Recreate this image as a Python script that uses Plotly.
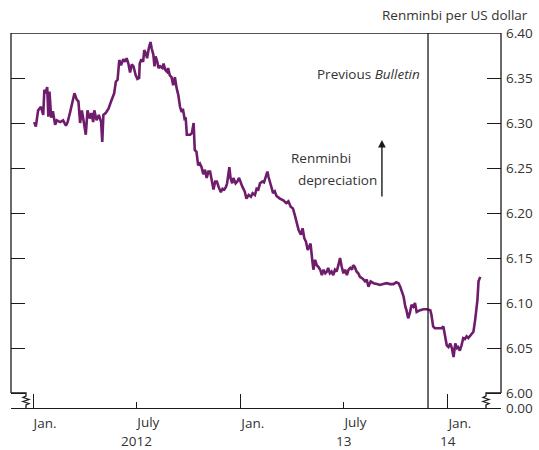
import plotly.graph_objects as go

# ---- data ----
dates = [
 "2012-01-03","2012-01-06","2012-01-10","2012-01-15","2012-01-19","2012-01-21","2012-01-23","2012-01-26",
 "2012-01-28","2012-01-30","2012-02-02","2012-02-05","2012-02-09","2012-02-12","2012-02-18","2012-02-23",
 "2012-02-28","2012-03-02","2012-03-06","2012-03-10","2012-03-14","2012-03-18","2012-03-21","2012-03-24",
 "2012-03-27","2012-03-30","2012-04-03","2012-04-06","2012-04-10","2012-04-13","2012-04-16","2012-04-18",
 "2012-04-22","2012-04-26","2012-04-30","2012-05-02","2012-05-04","2012-05-08","2012-05-13","2012-05-17",
 "2012-05-20","2012-05-23","2012-05-26","2012-05-29","2012-06-01","2012-06-04","2012-06-08","2012-06-11",
 "2012-06-14","2012-06-17","2012-06-20","2012-06-23","2012-06-26","2012-06-30","2012-07-03","2012-07-06",
 "2012-07-07","2012-07-10","2012-07-13","2012-07-15","2012-07-18","2012-07-20","2012-07-23","2012-07-26",
 "2012-07-28","2012-07-31","2012-08-02","2012-08-04","2012-08-07","2012-08-09","2012-08-12","2012-08-16",
 "2012-08-18","2012-08-21","2012-08-24","2012-08-26","2012-08-29","2012-09-01","2012-09-04","2012-09-07",
 "2012-09-10","2012-09-13","2012-09-16","2012-09-19","2012-09-21","2012-09-24","2012-09-26","2012-09-28",
 "2012-10-04","2012-10-07","2012-10-10","2012-10-12","2012-10-15","2012-10-18","2012-10-21","2012-10-24",
 "2012-10-27","2012-10-30","2012-11-02","2012-11-05","2012-11-08","2012-11-11","2012-11-14","2012-11-17",
 "2012-11-20","2012-11-23","2012-11-27","2012-11-30","2012-12-03","2012-12-06","2012-12-08","2012-12-12",
 "2012-12-14","2012-12-17","2012-12-19","2012-12-23","2012-12-26","2012-12-29","2013-01-02","2013-01-04",
 "2013-01-08","2013-01-11","2013-01-15","2013-01-19","2013-01-22","2013-01-26","2013-01-29","2013-02-01",
 "2013-02-04","2013-02-08","2013-02-11","2013-02-13","2013-02-17","2013-02-19","2013-02-22","2013-02-25",
 "2013-02-27","2013-03-02","2013-03-05","2013-03-11","2013-03-17","2013-03-22","2013-03-26","2013-03-30",
 "2013-04-03","2013-04-07","2013-04-10","2013-04-13","2013-04-17","2013-04-20","2013-04-23","2013-04-26",
 "2013-04-29","2013-05-02","2013-05-04","2013-05-07","2013-05-09","2013-05-12","2013-05-15","2013-05-18",
 "2013-05-21","2013-05-24","2013-05-27","2013-05-30","2013-06-02","2013-06-04","2013-06-07","2013-06-10",
 "2013-06-13","2013-06-16","2013-06-19","2013-06-22","2013-06-25","2013-06-28","2013-07-01","2013-07-04",
 "2013-07-07","2013-07-10","2013-07-13","2013-07-16","2013-07-18","2013-07-21","2013-07-24","2013-07-27",
 "2013-07-30","2013-08-04","2013-08-08","2013-08-11","2013-08-14","2013-08-18","2013-08-23","2013-08-29",
 "2013-09-03","2013-09-09","2013-09-15","2013-09-21","2013-09-27","2013-10-02","2013-10-06","2013-10-09",
 "2013-10-12","2013-10-15","2013-10-18","2013-10-20","2013-10-23","2013-10-26","2013-10-29","2013-11-01",
 "2013-11-04","2013-11-07","2013-11-13","2013-11-19","2013-11-25","2013-12-01","2013-12-03","2013-12-06",
 "2013-12-09","2013-12-15","2013-12-21","2013-12-24","2013-12-27","2013-12-30","2014-01-02","2014-01-05",
 "2014-01-08","2014-01-11","2014-01-14","2014-01-17","2014-01-19","2014-01-22","2014-01-25","2014-01-28",
 "2014-01-31","2014-02-03","2014-02-06","2014-02-09","2014-02-12","2014-02-15","2014-02-18","2014-02-20",
 "2014-02-22","2014-02-24","2014-02-27",
]
rmb_per_usd = [
 6.301,6.296,6.314,6.318,6.309,6.337,6.333,6.340,
 6.307,6.335,6.306,6.313,6.298,6.303,6.301,6.303,
 6.297,6.301,6.311,6.322,6.333,6.326,6.324,6.300,
 6.314,6.303,6.287,6.314,6.305,6.311,6.301,6.314,
 6.303,6.309,6.301,6.279,6.309,6.311,6.316,6.323,
 6.329,6.333,6.346,6.348,6.370,6.364,6.371,6.368,
 6.372,6.366,6.356,6.365,6.363,6.353,6.349,6.350,
 6.366,6.371,6.368,6.381,6.377,6.372,6.383,6.390,
 6.383,6.376,6.363,6.374,6.368,6.361,6.363,6.361,
 6.366,6.359,6.357,6.361,6.353,6.351,6.342,6.351,
 6.339,6.331,6.318,6.312,6.316,6.305,6.306,6.287,
 6.287,6.289,6.300,6.270,6.268,6.253,6.255,6.251,
 6.243,6.248,6.239,6.246,6.246,6.237,6.226,6.235,
 6.235,6.229,6.223,6.227,6.226,6.229,6.233,6.251,
 6.239,6.233,6.239,6.233,6.235,6.239,6.231,6.229,
 6.224,6.216,6.220,6.218,6.222,6.220,6.227,6.226,
 6.233,6.235,6.234,6.239,6.246,6.240,6.233,6.227,
 6.222,6.224,6.219,6.216,6.214,6.211,6.213,6.207,
 6.205,6.196,6.187,6.181,6.176,6.183,6.172,6.168,
 6.159,6.164,6.166,6.148,6.137,6.148,6.142,6.140,
 6.137,6.131,6.137,6.133,6.135,6.139,6.133,6.135,
 6.131,6.137,6.135,6.142,6.150,6.140,6.133,6.137,
 6.131,6.137,6.139,6.137,6.142,6.140,6.135,6.133,
 6.129,6.127,6.124,6.126,6.118,6.124,6.122,6.121,
 6.120,6.121,6.122,6.121,6.121,6.123,6.122,6.118,
 6.113,6.107,6.096,6.092,6.083,6.089,6.098,6.096,
 6.100,6.090,6.092,6.093,6.093,6.092,6.087,6.074,
 6.072,6.072,6.072,6.074,6.064,6.053,6.051,6.055,
 6.050,6.040,6.055,6.050,6.051,6.047,6.053,6.061,
 6.060,6.063,6.061,6.063,6.066,6.068,6.081,6.092,
 6.103,6.124,6.129,
]

jan_ticks = ["2012-01-01", "2013-01-01", "2014-01-01"]
jan_labels = ["Jan.", "Jan.", "Jan."]
july_ticks = ["2012-07-01", "2013-07-01"]
july_labels = ["July", "July"]
year_pos = ["2012-07-01", "2013-07-01", "2014-01-01"]
year_labels = ["2012", "13", "14"]

y_ticks = [6.00, 6.05, 6.10, 6.15, 6.20, 6.25, 6.30, 6.35, 6.40]
y_tick_labels = ["6.00", "6.05", "6.10", "6.15", "6.20", "6.25", "6.30", "6.35", "6.40"]
y_bottom = 5.98333           # bottom of the broken axis, labelled 0.00
bulletin_date = "2013-11-27"

x_range = ["2011-11-23 05:00", "2014-04-04 14:00"]
y_range = [y_bottom, 6.40]

FONT = "Open Sans"
TXT = "#333333"
LINE = "#1a1a1a"
PURPLE = "#6e1c6b"

fig = go.Figure()
fig.add_trace(go.Scatter(x=dates, y=rmb_per_usd, mode="lines",
                         line=dict(color=PURPLE, width=2.6), hoverinfo="skip",
                         showlegend=False))
# invisible trace to create the overlaid axes (July ticks, left ticks)
fig.add_trace(go.Scatter(x=dates, y=rmb_per_usd, mode="lines", xaxis="x2", yaxis="y2",
                         line=dict(color="rgba(0,0,0,0)", width=0), hoverinfo="skip",
                         showlegend=False))

tickfont = dict(family=FONT, size=13.5, color=TXT)

fig.update_layout(
    width=539, height=450,
    margin=dict(l=11, r=38, t=33, b=42, autoexpand=False),
    paper_bgcolor="white", plot_bgcolor="white",
    font=dict(family=FONT, size=13.5, color=TXT),
    showlegend=False,
    xaxis=dict(type="date", range=x_range, showgrid=False, zeroline=False, automargin=False,
               showline=True, linecolor=LINE, linewidth=1.3,
               tickmode="array", tickvals=jan_ticks, ticktext=jan_labels,
               ticks="inside", ticklen=14, tickwidth=1.3, tickcolor=LINE,
               tickfont=tickfont, ticklabelshift=12, ticklabelstandoff=3),
    xaxis2=dict(type="date", range=x_range, overlaying="x", anchor="y2", side="bottom",
                showgrid=False, zeroline=False, showline=False, automargin=False,
                tickmode="array", tickvals=july_ticks, ticktext=july_labels,
                ticks="inside", ticklen=6, tickwidth=1.3, tickcolor=LINE,
                tickfont=tickfont, ticklabelshift=12, ticklabelstandoff=4),
    yaxis=dict(range=y_range, side="right", showgrid=False, zeroline=False,
               showline=False, tickmode="array", automargin=False,
               tickvals=[y_bottom] + y_ticks, ticktext=["0.00"] + y_tick_labels,
               ticks="inside", ticklen=14, tickwidth=1.3, tickcolor=LINE,
               tickfont=tickfont, ticklabelstandoff=4),
    yaxis2=dict(range=y_range, overlaying="y", anchor="x2", side="left",
                showgrid=False, zeroline=False, showline=False, automargin=False,
                tickmode="array", tickvals=y_ticks, showticklabels=False,
                ticks="inside", ticklen=14, tickwidth=1.3, tickcolor=LINE),
)

lw = 1.3
shapes = [
    # frame above the axis break
    dict(type="line", xref="paper", yref="y", x0=0, x1=0, y0=6.00, y1=6.40,
         line=dict(color=LINE, width=lw)),
    dict(type="line", xref="paper", yref="y", x0=1, x1=1, y0=6.00, y1=6.40,
         line=dict(color=LINE, width=lw)),
    dict(type="line", xref="paper", yref="y", x0=0, x1=1, y0=6.40, y1=6.40,
         line=dict(color=LINE, width=lw)),
    # Previous Bulletin marker
    dict(type="line", xref="x", yref="paper", x0=bulletin_date, x1=bulletin_date, y0=0, y1=1,
         line=dict(color=LINE, width=lw)),
    # axis-break zigzags
    dict(type="path", xref="paper", yref="y", xsizemode="pixel", ysizemode="pixel",
         xanchor=0, yanchor=6.00,
         path="M0,0 L15,0 L15,-3 L12,-4.5 L18,-6.5 L12,-8.5 L18,-10.5 L15,-12 L15,-15",
         line=dict(color=LINE, width=lw)),
    dict(type="path", xref="paper", yref="y", xsizemode="pixel", ysizemode="pixel",
         xanchor=1, yanchor=6.00,
         path="M0,0 L-15,0 L-15,-3 L-18,-4.5 L-12,-6.5 L-18,-8.5 L-12,-10.5 L-15,-12 L-15,-15",
         line=dict(color=LINE, width=lw)),
]
fig.update_layout(shapes=shapes)

annotations = [
    dict(text="Renminbi per US dollar", xref="paper", yref="paper", x=1.059, y=1.048,
         xanchor="right", yanchor="middle", showarrow=False),
    dict(text="Previous <i>Bulletin</i>", xref="x", yref="paper", x=bulletin_date, y=0.891,
         xanchor="right", yanchor="middle", xshift=-6, showarrow=False),
    dict(text="Renminbi", xref="paper", yref="paper", x=0.567, y=0.667,
         xanchor="left", yanchor="middle", showarrow=False),
    dict(text="depreciation", xref="paper", yref="paper", x=0.582, y=0.608,
         xanchor="left", yanchor="middle", showarrow=False),
    dict(text="", xref="paper", yref="paper", x=0.757, y=0.715, ax=0, ay=58,
         showarrow=True, arrowhead=2, arrowsize=1.1, arrowwidth=1.4, arrowcolor=LINE,
         standoff=0, startstandoff=0),
]
for pos, lab in zip(year_pos, year_labels):
    annotations.append(dict(text=lab, xref="x", yref="paper", x=pos, y=0,
                            xanchor="center", yanchor="top", yshift=-22, showarrow=False))
fig.update_layout(annotations=annotations)

fig.write_html("out.html", config={"displayModeBar": False},
               post_script="document.body.style.margin='0';document.body.style.overflow='hidden';")
